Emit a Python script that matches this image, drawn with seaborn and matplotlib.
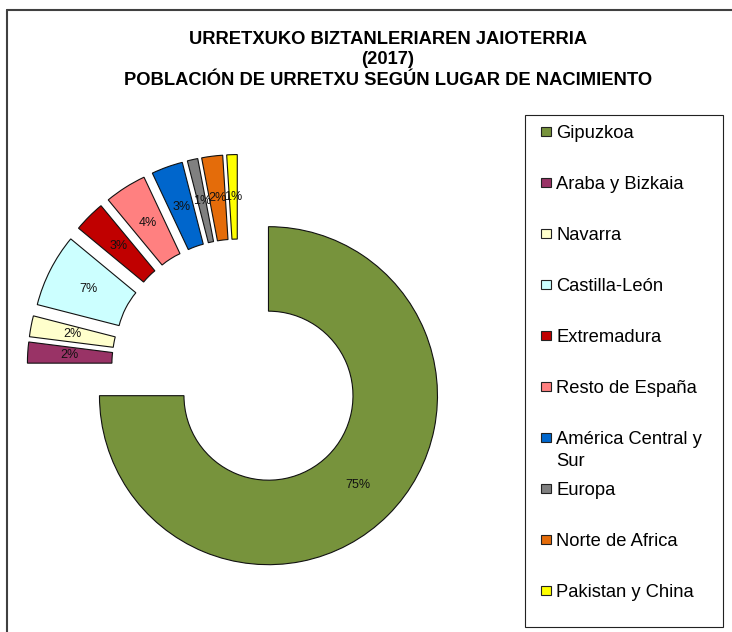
import textwrap
import matplotlib
matplotlib.use("Agg")
import matplotlib.pyplot as plt
from matplotlib.patches import Rectangle
from matplotlib.lines import Line2D
import seaborn as sns

# ---- data ----
categories = ["Gipuzkoa", "Araba y Bizkaia", "Navarra", "Castilla-León", "Extremadura",
              "Resto de España", "América Central y Sur", "Europa", "Norte de Africa",
              "Pakistan y China"]
shares = [75, 2, 2, 7, 3, 4, 3, 1, 2, 1]
colors = ["#77933C", "#993366", "#FFFFCC", "#CCFFFF", "#C00000", "#FF8080",
          "#0066CC", "#808080", "#E46C0A", "#FFFF00"]
title_lines = ["URRETXUKO BIZTANLERIAREN JAIOTERRIA", "(2017)",
               "POBLACIÓN DE URRETXU SEGÚN LUGAR DE NACIMIENTO"]

sns.set_theme(style="white")
plt.rcParams["font.family"] = ["Liberation Sans", "DejaVu Sans"]

W, H = 732, 632
fig = plt.figure(figsize=(W / 100, H / 100), dpi=100)
fig.patch.set_facecolor("white")


def fx(px):
    return px / W


def fy(py):
    return 1 - py / H


ax = fig.add_axes([0, 0, 1, 1])
cx, cy, R = 238.6, 365.8, 169.0
wedges, texts, autotexts = ax.pie(
    shares, colors=colors, explode=[0.25] * len(shares), startangle=90,
    counterclock=False, radius=1.0, autopct="%1.0f%%", pctdistance=0.75,
    wedgeprops=dict(width=0.5, edgecolor="#111111", linewidth=0.8),
    textprops=dict(fontsize=9, color="#111111"))
ax.set_xlim(-cx / R, (W - cx) / R)
ax.set_ylim(-(H - cy) / R, cy / R)
ax.set_aspect("auto")
ax.axis("off")

# outer chart frame (top and left edges visible)
fig.add_artist(Line2D([fx(7.5), 1], [fy(10), fy(10)], transform=fig.transFigure,
                      color="#404040", lw=1.5))
fig.add_artist(Line2D([fx(7.5), fx(7.5)], [fy(10), 0], transform=fig.transFigure,
                      color="#404040", lw=1.5))

# title
for line, base in zip(title_lines, [44, 64.5, 85]):
    fig.text(fx(388), fy(base), line, ha="center", va="baseline",
             fontsize=13.2, fontweight="bold", color="black")

# legend box
fig.add_artist(Rectangle((fx(525), fy(627)), (723 - 525) / W, (627 - 115) / H,
                         transform=fig.transFigure, facecolor="white",
                         edgecolor="#222222", lw=0.8))
fs = 13.2
cap = 0.716 * fs * 100 / 72
for i, (cat, col) in enumerate(zip(categories, colors)):
    yc = 131.5 + 51 * i
    fig.add_artist(Rectangle((fx(541), fy(yc + 4.5)), 10 / W, 9 / H,
                             transform=fig.transFigure, facecolor=col,
                             edgecolor="#222222", lw=0.8))
    for k, part in enumerate(textwrap.wrap(cat, 17)):
        fig.text(fx(556), fy(yc + cap / 2 + 22 * k), part, ha="left",
                 va="baseline", fontsize=fs, color="black")

fig.savefig("out.png", dpi=100, facecolor="white")
